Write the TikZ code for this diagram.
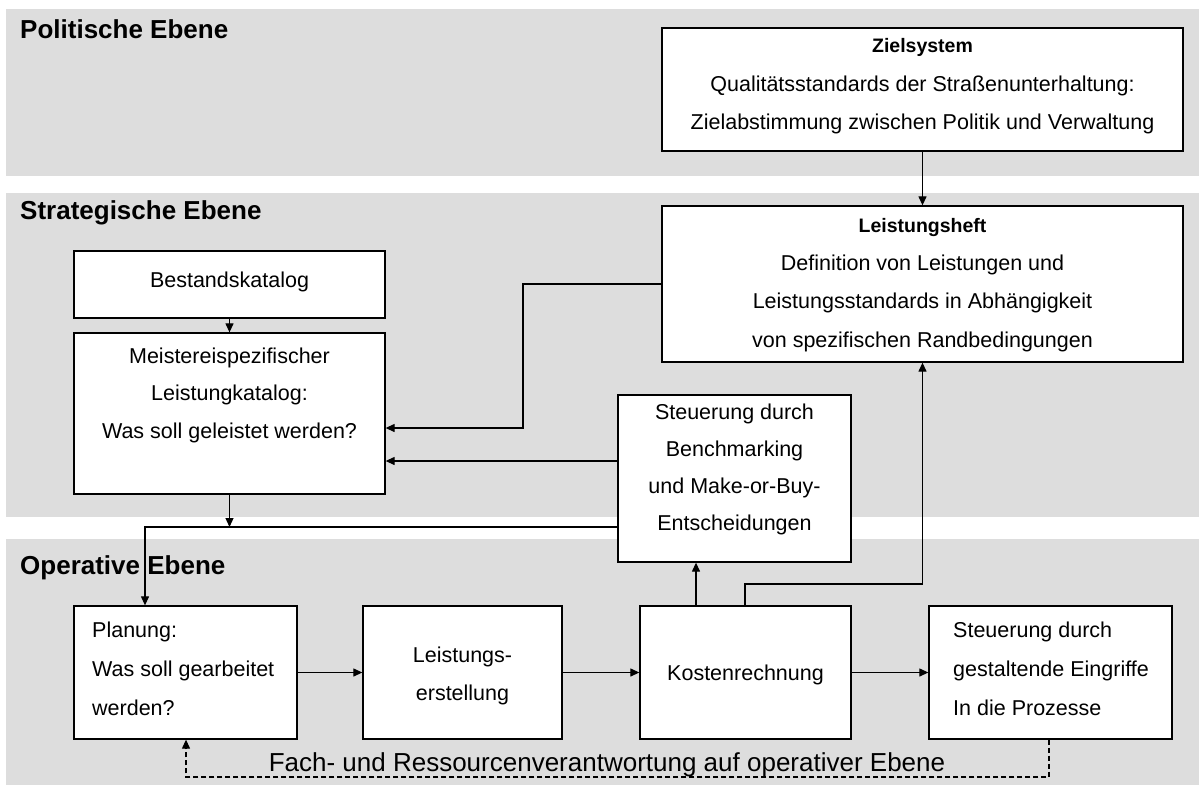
\documentclass[tikz,border=0pt]{standalone}
\usepackage{fontspec}
\setmainfont{Liberation Sans}
\usetikzlibrary{arrows.meta}
\definecolor{bandgray}{RGB}{221,221,221}
\tikzset{
  band/.style={fill=bandgray, draw=none},
  box/.style={draw=black, line width=1.3pt, fill=white, rectangle, inner sep=0pt},
  txt/.style={font=\fontsize{21.5}{26}\selectfont, inner sep=0pt, anchor=base},
  txtl/.style={txt, anchor=base west},
  head/.style={font=\fontsize{19.5}{23}\selectfont\bfseries, inner sep=0pt, anchor=base},
  title/.style={font=\fontsize{26}{30}\selectfont\bfseries, inner sep=0pt, anchor=base west},
  arr/.style={line width=1.2pt, -{Triangle[length=9pt,width=8pt]}},
  dasharr/.style={line width=1.1pt, dash pattern=on 5pt off 3pt, -{Triangle[length=9pt,width=8pt]}},
  lbl/.style={font=\fontsize{26}{30}\selectfont, inner sep=0pt, anchor=base}
}
\newcommand{\mybox}[5]{\node[box, minimum width={(#4-#2)*1pt}, minimum height={(#5-#3)*1pt}] (#1) at ({(#2+#4)/2},{(#3+#5)/2}) {};}
\begin{document}
\begin{tikzpicture}[x=1pt,y=-1pt]
\useasboundingbox (0,0) rectangle (1199,787);
% bands
\fill[band] (6,9) rectangle (1199,176);
\fill[band] (6,193) rectangle (1199,517);
\fill[band] (6,539) rectangle (1199,785);
\node[title] (tpol) at (20,38) {Politische Ebene};
\node[title] (tstr) at (20,219) {Strategische Ebene};
\node[title] (top) at (20,574) {Operative Ebene};
% boxes
\mybox{ziel}{662}{28}{1183}{151}
\mybox{lheft}{662}{206}{1183}{362}
\mybox{best}{74}{251}{385}{318}
\mybox{meist}{74}{333}{385}{494}
\mybox{steu}{618}{395}{851}{562}
\mybox{plan}{74}{606}{297}{739}
\mybox{lerst}{363}{606}{562}{739}
\mybox{kost}{640}{606}{851}{739}
\mybox{sgest}{929}{606}{1172}{739}
% texts
\node[head] (ziel1) at (922.5,52) {Zielsystem};
\node[txt] (ziel2) at (922.5,91) {Qualitätsstandards der Straßenunterhaltung:};
\node[txt] (ziel3) at (922.5,129) {Zielabstimmung zwischen Politik und Verwaltung};
\node[head] (lh1) at (922.5,232) {Leistungsheft};
\node[txt] (lh2) at (922.5,270) {Definition von Leistungen und};
\node[txt] (lh3) at (922.5,308) {Leistungsstandards in Abhängigkeit};
\node[txt] (lh4) at (922.5,347) {von spezifischen Randbedingungen};
\node[txt] (b1) at (229.5,287) {Bestandskatalog};
\node[txt] (m1) at (229.5,363) {Meistereispezifischer};
\node[txt] (m2) at (229.5,400) {Leistungkatalog:};
\node[txt] (m3) at (229.5,438) {Was soll geleistet werden?};
\node[txt] (s1) at (734.5,419) {Steuerung durch};
\node[txt] (s2) at (734.5,456) {Benchmarking};
\node[txt] (s3) at (734.5,493) {und Make-or-Buy-};
\node[txt] (s4) at (734.5,530) {Entscheidungen};
\node[txtl] (p1) at (92,637) {Planung:};
\node[txtl] (p2) at (92,676) {Was soll gearbeitet};
\node[txtl] (p3) at (92,715) {werden?};
\node[txt] (le1) at (462.5,662) {Leistungs-};
\node[txt] (le2) at (462.5,700) {erstellung};
\node[txt] (k1) at (745.5,680) {Kostenrechnung};
\node[txtl] (g1) at (953,637) {Steuerung durch};
\node[txtl] (g2) at (953,676) {gestaltende Eingriffe};
\node[txtl] (g3) at (953,715) {In die Prozesse};
\node[lbl] (flab) at (607,771) {Fach- und Ressourcenverantwortung auf operativer Ebene};
% junction coordinates
\coordinate (j1) at (523,428);
\coordinate (j2) at (618,461);
\coordinate (j3) at (145,527);
\coordinate (j4) at (618,527);
\coordinate (c1) at (696,0);
\coordinate (c2) at (745,584);
\coordinate (d1) at (1049,777);
\coordinate (d2) at (186,777);
% connectors
\draw[arr] (ziel.south) -- (lheft.north);
\draw[arr] (best.south) -- (meist.north);
\draw[arr] (lheft.west) -| (j1) -- (j1 -| meist.east);
\draw[arr] (j2) -- (j2 -| meist.east);
\draw[arr] (meist.south) -- (meist.south |- j3);
\draw[arr] (j4) -- (j3) -- (j3 |- plan.north);
\draw[arr] (c1 |- kost.north) -- (c1 |- steu.south);
\draw[arr] (c2 |- kost.north) -- (c2) -| (lheft.south);
\draw[arr] (plan.east) -- (lerst.west);
\draw[arr] (lerst.east) -- (kost.west);
\draw[arr] (kost.east) -- (sgest.west);
\draw[dasharr] (d1 |- sgest.south) -- (d1) -- (d2) -- (d2 |- plan.south);
\end{tikzpicture}
\end{document}
